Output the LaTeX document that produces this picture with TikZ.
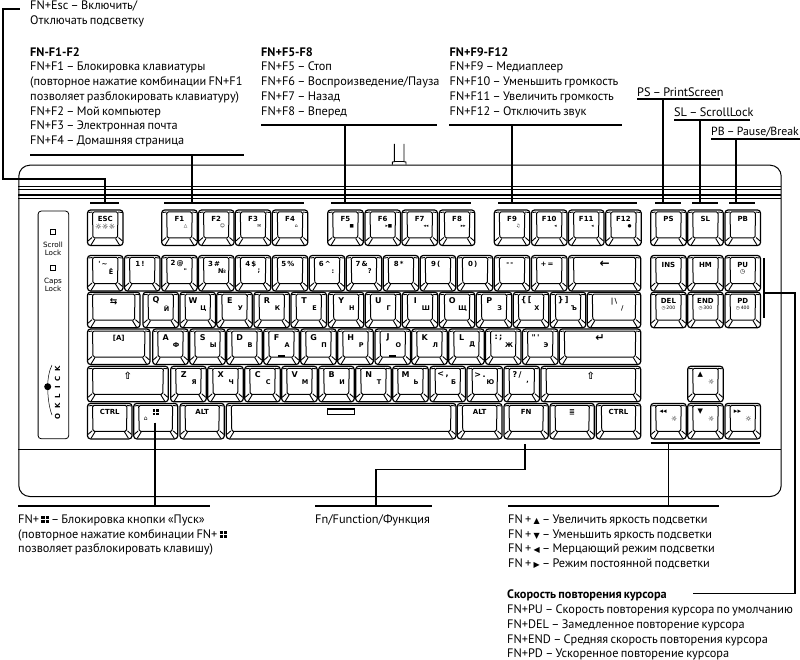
\documentclass[tikz,border=0pt]{standalone}
\usepackage{fontspec}
\setmainfont{PT Sans}[WordSpace=0.7]
\newfontfamily\keyfont{DejaVu Sans}
\usetikzlibrary{positioning}

% Key sizes and rows
\newcommand{\keyW}{35.5}
\newcommand{\keyH}{35.5}
\newcommand{\rowFn}{210}
\newcommand{\rowNum}{255.5}
\newcommand{\rowTab}{292.2}
\newcommand{\rowCaps}{329}
\newcommand{\rowShift}{366.3}
\newcommand{\rowCtrl}{403.4}
\newcommand{\winglyph}{\raisebox{.1ex}{\vbox{\offinterlineskip\hbox{\rule{.26em}{.23em}\kern.08em\rule{.26em}{.23em}}\kern.08em\hbox{\rule{.26em}{.23em}\kern.08em\rule{.26em}{.23em}}}}}
\newcommand{\symglyph}[1]{{\keyfont\fontsize{8}{8}\selectfont #1}}

\tikzset{
    keybody/.style={draw, line width=1.2pt, rounded corners=3pt, inner sep=0pt, outer sep=0pt},
    keyline/.style={line width=1pt, rounded corners=1.5pt},
    keychamfer/.style={line width=.9pt},
    keylat/.style={inner sep=0pt, font=\keyfont\bfseries\fontsize{7}{7}\selectfont},
    keybig/.style={inner sep=0pt, font=\keyfont\bfseries\fontsize{8}{8}\selectfont},
    keycyr/.style={inner sep=0pt, font=\keyfont\bfseries\fontsize{6.5}{7}\selectfont},
    keysub/.style={inner sep=0pt, font=\keyfont\fontsize{4.6}{5}\selectfont},
    lockstyle/.style={inner sep=0pt, align=center, font=\keyfont\fontsize{7.2}{7.8}\selectfont},
    notetext/.style={anchor=north west, inner sep=0pt, align=left, font=\fontsize{12.3}{14.7}\selectfont},
    leadbar/.style={line width=2pt},
    leadthin/.style={line width=1.6pt}
}

% Key outline with inner top and corner chamfers: name, x, y, width, height
\newcommand{\keycap}[5]{
    \node[keybody, minimum width=#4pt, minimum height=#5pt, anchor=north west] (#1) at (#2,#3) {};
    \draw[keyline] ([shift={(5,2)}]#1.north west) -- ([shift={(-5,2)}]#1.north east)
        -- ([shift={(-5.5,-7.5)}]#1.south east) -- ([shift={(5.5,-7.5)}]#1.south west) -- cycle;
    \draw[keychamfer] ([shift={(1,2.5)}]#1.north west) -- ([shift={(5,2)}]#1.north west);
    \draw[keychamfer] ([shift={(-1,2.5)}]#1.north east) -- ([shift={(-5,2)}]#1.north east);
    \draw[keychamfer] ([shift={(.5,-4.5)}]#1.south west) -- ([shift={(4.5,-8)}]#1.south west);
    \draw[keychamfer] ([shift={(3.5,-.5)}]#1.south west) -- ([shift={(7.5,-7)}]#1.south west);
    \draw[keychamfer] ([shift={(-.5,-4.5)}]#1.south east) -- ([shift={(-4.5,-8)}]#1.south east);
    \draw[keychamfer] ([shift={(-3.5,-.5)}]#1.south east) -- ([shift={(-7.5,-7)}]#1.south east);
}
% Standard key with two legends: name, x, y, legend x, latin, cyrillic
\newcommand{\lettercap}[6]{
    \keycap{#1}{#2}{#3}{\keyW}{\keyH}
    \node[keylat] (#1lat) at ([shift={(#4,8.4)}]#1.north west) {#5};
    \node[keycyr] (#1cyr) at ([shift={(23.5,16)}]#1.north west) {#6};
}
% Same, with the bigger latin letter
\newcommand{\alphacap}[5]{
    \keycap{#1}{#2}{#3}{\keyW}{\keyH}
    \node[keybig] (#1lat) at ([shift={(13,8.4)}]#1.north west) {#4};
    \node[keycyr] (#1cyr) at ([shift={(23.5,16)}]#1.north west) {#5};
}
% Key with one centred legend: name, x, y, width, legend
\newcommand{\widecap}[5]{
    \keycap{#1}{#2}{#3}{#4}{\keyH}
    \node[keylat] (#1lat) at ([yshift=-9pt]#1.north) {#5};
}
% Bar over a key group, stem and bar under the note: name, bar left, bar right, stem x, note left, note right, note y
\newcommand{\groupleader}[7]{
    \coordinate (#1a) at (#2,202.7);
    \coordinate (#1b) at (#3,202.7);
    \coordinate (#1c) at (#4,202.7);
    \coordinate (#1d) at (#4,#7);
    \coordinate (#1e) at (#5,#7);
    \coordinate (#1f) at (#6,#7);
    \draw[leadbar] (#1a) -- (#1b);
    \draw[leadbar] (#1c) -- (#1d);
    \draw[leadbar] (#1e) -- (#1f);
}

\begin{document}
\begin{tikzpicture}[x=1pt,y=-1pt]
    \useasboundingbox (0,0) rectangle (800,660);

    % Keyboard case
    \node[draw, line width=1pt, rounded corners=11pt, inner sep=0pt, minimum width=762.4pt, minimum height=331.3pt, anchor=north west] (case) at (18.3,164.7) {};
    \foreach \y/\w in {186/.8, 189.3/.8, 195/1.7, 198/.8, 449.3/1.3}
        \draw[line width=\w pt] (18.3,\y) -- (780.7,\y);

    % Cable stub
    \draw[line width=.9pt] (392.3,164.7) -- (392.3,162) -- (394.3,161.7) -- (394.3,144);
    \draw[line width=.9pt] (406,164.7) -- (406,162) -- (404,161.7) -- (404,144);
    \draw[line width=.9pt] (394.3,161.7) -- (404,161.7);

    % Indicator panel
    \node[draw, line width=.8pt, rounded corners=3pt, inner sep=0pt, minimum width=30.6pt, minimum height=227.6pt, anchor=north west] (panel) at (37.7,210.7) {};
    \node[draw, line width=.8pt, minimum size=5.5pt, inner sep=0pt] (scrollled) at (53,232) {};
    \node[draw, line width=.8pt, minimum size=5.5pt, inner sep=0pt] (capsled) at (53,268) {};
    \node[lockstyle] (scrolltxt) at (53,249) {Scroll\\Lock};
    \node[lockstyle] (capstxt) at (53,284.7) {Caps\\Lock};
    \node[rotate=90, inner sep=0pt, font=\keyfont\bfseries\fontsize{7}{7}\selectfont, text width=53pt, align=justify] (logo) at (57.5,392.5) {O\hfill K\hfill L\hfill I\hfill C\hfill K};
    \node[circle, fill, inner sep=0pt, minimum size=7pt] (logodot) at (47.7,386.7) {};
    \draw[line width=.5pt] (52,365) .. controls (48.5,372) and (47.7,380) .. (logodot.center) .. controls (47.7,394) and (48.5,406) .. (52,415);

    % Function row
    \widecap{esc}{87.5}{\rowFn}{\keyW}{ESC}
    \node[keysub] (escsub) at ([shift={(17.7,16.5)}]esc.north west) {\fontsize{7.5}{7.5}\selectfont ☼☼☼};
    \foreach \nm/\x/\txt/\sub in {F1/161.7/F1/△, F2/198.5/F2/☺, F3/235.3/F3/✉, F4/272.3/F4/⌂,
        F5/327.7/F5/■, F6/365/F6/▸■, F7/402/F7/◂◂, F8/439.3/F8/▸▸,
        F9/494.3/F9/♫, F10/531.5/F10/◂, F11/568.5/F11/◂, F12/605.7/F12/●}{
        \widecap{\nm}{\x}{\rowFn}{\keyW}{\txt}
        \node[keysub] (\nm sub) at ([shift={(24,16)}]\nm.north west) {\sub};
    }
    \foreach \nm/\x/\txt in {PS/650.7/PS, SL/687.7/SL, PB/725/PB}
        \widecap{\nm}{\x}{\rowFn}{\keyW}{\txt};

    % Number row
    \foreach \nm/\x/\lat/\cyr in {tilde/87.5/'\,\textasciitilde/Ё, one/124.5/1\,!/{}, two/161.7/2\,@/{"}, three/198.5/3\,\#/№,
        four/235.3/4\,\$/{;}, five/272.3/5\,\%/{}, six/309.3/6\,\^{}/{:}, seven/346.2/7\,\&/?,
        eight/383.2/8\,*/{}, nine/420.2/9\,(/{}, zero/457.3/0\,)/{}, minus/494.3/-\,-/{}, plus/531.5/+\,=/{}}
        \lettercap{\nm}{\x}{\rowNum}{15.5}{\lat}{\cyr};
    \widecap{back}{568.5}{\rowNum}{72.2}{\fontsize{12}{12}\selectfont ←}
    \widecap{INS}{650.7}{\rowNum}{\keyW}{INS}
    \widecap{HM}{687.7}{\rowNum}{\keyW}{HM}
    \widecap{PU}{725}{\rowNum}{\keyW}{PU}
    \node[keysub] (PUsub) at ([yshift=-16pt]PU.north) {\fontsize{6}{6}\selectfont ◷};

    % Upper letter row
    \widecap{tab}{87.5}{\rowTab}{52.5}{\fontsize{9}{9}\selectfont ⇆}
    \foreach \nm/\x/\lat/\cyr in {Q/143/Q/Й, W/180/W/Ц, E/216.8/E/У, R/254/R/К, T/291/T/Е, Y/328.3/Y/Н,
        U/365.3/U/Г, I/402.3/I/Ш, O/439.3/O/Щ, P/476.3/P/З, lbrack/513.3/\{\,[/Х, rbrack/550.3/\}\,]/Ъ}
        \alphacap{\nm}{\x}{\rowTab}{\lat}{\cyr};
    \widecap{bslash}{587.3}{\rowTab}{53.4}{|\,\textbackslash}
    \node[keycyr] (bslashcyr) at ([shift={(35,16)}]bslash.north west) {/};
    \widecap{DEL}{650.7}{\rowTab}{\keyW}{DEL}
    \widecap{END}{687.7}{\rowTab}{\keyW}{END}
    \widecap{PD}{725}{\rowTab}{\keyW}{PD}
    \foreach \nm/\val in {DEL/200, END/300, PD/400}
        \node[keysub] (\nm sub) at ([yshift=-16pt]\nm.north) {◷\,\val};

    % Home row
    \widecap{caps}{87.5}{\rowCaps}{62.5}{[A]}
    \foreach \nm/\x/\lat/\cyr in {A/152.7/A/Ф, S/189.7/S/Ы, D/226.7/D/В, F/263.7/F/А, G/300.7/G/П, H/337.7/H/Р,
        J/375/J/О, K/411.7/K/Л, L/448.7/L/Д, colon/485.5/:\,;/Ж, quote/522.5/"\,'/Э}
        \alphacap{\nm}{\x}{\rowCaps}{\lat}{\cyr};
    \widecap{enter}{559.3}{\rowCaps}{81.4}{\fontsize{11}{11}\selectfont ↵}
    \foreach \nm in {F, J}
        \fill ([shift={(14,26)}]\nm.north west) rectangle +(7,1.8);

    % Shift row
    \widecap{lshift}{87.5}{\rowShift}{80.8}{\fontsize{10}{10}\selectfont ⇧}
    \foreach \nm/\x/\lat/\cyr in {Z/170.7/Z/Я, X/207.7/X/Ч, C/244.7/C/С, V/281.7/V/М, B/318.7/B/И, N/355.7/N/Т,
        M/392.7/M/Ь, less/430/{<\,,}/Б, great/467/{>\,.}/Ю, quest/504/{?\,/}/{,}}
        \alphacap{\nm}{\x}{\rowShift}{\lat}{\cyr};
    \widecap{rshift}{541}{\rowShift}{99.7}{\fontsize{10}{10}\selectfont ⇧}
    \lettercap{up}{687.7}{\rowShift}{12.5}{▲}{\fontsize{7}{7}\selectfont ☼}

    % Bottom row
    \widecap{lctrl}{87.5}{\rowCtrl}{44.5}{CTRL}
    \widecap{win}{133.7}{\rowCtrl}{44}{\fontsize{10}{10}\selectfont\winglyph}
    \node[keysub] (winlock) at ([shift={(12,15)}]win.north west) {\fontsize{6}{6}\selectfont ⌂};
    \widecap{lalt}{180}{\rowCtrl}{44.3}{ALT}
    \keycap{space}{226.3}{\rowCtrl}{229.7}{\keyH}
    \node[draw, line width=1.4pt, inner sep=0pt, minimum width=27pt, minimum height=5.5pt] (spacemark) at (341,411.7) {};
    \widecap{ralt}{457.3}{\rowCtrl}{44.7}{ALT}
    \widecap{fn}{504}{\rowCtrl}{44.3}{FN}
    \widecap{menu}{550}{\rowCtrl}{44.3}{≣}
    \widecap{rctrl}{596.3}{\rowCtrl}{44.4}{CTRL}
    \lettercap{left}{650.7}{\rowCtrl}{12.5}{◂◂}{\fontsize{7}{7}\selectfont ☼}
    \lettercap{down}{687.7}{\rowCtrl}{12.5}{▼}{\fontsize{7}{7}\selectfont ☼}
    \lettercap{right}{725}{\rowCtrl}{12.5}{▸▸}{\fontsize{7}{7}\selectfont ☼}

    % Notes above the keyboard
    \node[notetext] (escnote) at (30,.5) {FN+Esc – Включить/\\Отключать подсветку};
    \node[notetext] (fonenote) at (30,47.3) {\textbf{FN-F1-F2}\\FN+F1 – Блокировка клавиатуры\\(повторное нажатие комбинации FN+F1\\позволяет разблокировать клавиатуру)\\FN+F2 – Мой компьютер\\FN+F3 – Электронная почта\\FN+F4 – Домашняя страница};
    \node[notetext] (ffivenote) at (261,47.3) {\textbf{FN+F5-F8}\\FN+F5 – Стоп\\FN+F6 – Воспроизведение/Пауза\\FN+F7 – Назад\\FN+F8 – Вперед};
    \node[notetext] (fninenote) at (449.5,47.3) {\textbf{FN+F9-F12}\\FN+F9 – Медиаплеер\\FN+F10 – Уменьшить громкость\\FN+F11 – Увеличить громкость\\FN+F12 – Отключить звук};
    \node[notetext] (psnote) at (637,87.5) {PS – PrintScreen};
    \node[notetext] (slnote) at (674,107.5) {SL – ScrollLock};
    \node[notetext, font=\fontsize{11.8}{14.7}\selectfont] (pbnote) at (711,126.5) {PB – Pause/Break};

    % Notes below the keyboard
    \node[notetext] (winnote) at (18,514.5) {FN+ \winglyph\ – Блокировка кнопки «Пуск»\\(повторное нажатие комбинации FN+ \winglyph\\позволяет разблокировать клавишу)};
    \node[notetext] (fnnote) at (315,514.5) {Fn/Function/Функция};
    \node[notetext] (lightnote) at (508,514.5) {FN + \symglyph{▲} – Увеличить яркость подсветки\\FN + \symglyph{▼} – Уменьшить яркость подсветки\\FN + \symglyph{◀} – Мерцающий режим подсветки\\FN + \symglyph{▶} – Режим постоянной подсветки};
    \node[notetext] (cursornote) at (507,590) {\textbf{Скорость повторения курсора}\\FN+PU – Скорость повторения курсора по умолчанию\\FN+DEL – Замедленное повторение курсора\\FN+END – Средняя скорость повторения курсора\\FN+PD – Ускоренное повторение курсора};

    % Leaders over the keys
    \groupleader{fone}{164.3}{304.3}{191.7}{30}{244}{155}
    \groupleader{ffive}{331}{470.7}{345}{261}{436.7}{125.2}
    \groupleader{fnine}{498.3}{636.7}{511.7}{449.3}{621.7}{125.2}
    \groupleader{ps}{655}{680.7}{662.7}{637.3}{720}{99.5}
    \groupleader{sl}{692.3}{717.7}{700}{674}{750}{120}
    \groupleader{pb}{729}{755}{735.7}{711}{800}{139.5}

    % Leader from the escape key
    \coordinate (esca) at (90,202.7);
    \coordinate (escb) at (119.3,202.7);
    \coordinate (escc) at (105,202.7);
    \coordinate (escd) at (105,179);
    \coordinate (esce) at (2.7,179);
    \coordinate (escf) at (2.7,9.3);
    \coordinate (escg) at (20,9.3);
    \draw[leadbar] (esca) -- (escb);
    \draw[leadbar] (escc) -- (escd) -- (esce) -- (escf) -- (escg);

    % Leaders under the keys
    \coordinate (wina) at (18,506);
    \coordinate (winb) at (210,506);
    \coordinate (winc) at (155,506);
    \coordinate (wind) at (155,422.7);
    \draw[leadbar] (wina) -- (winb);
    \draw[leadthin] (wind) -- (winc);
    \coordinate (fna) at (315,506);
    \coordinate (fnb) at (431.7,506);
    \coordinate (fnc) at (376,506);
    \coordinate (fnd) at (376,469.3);
    \coordinate (fne) at (525,469.3);
    \coordinate (fnf) at (525,443.5);
    \draw[leadbar] (fna) -- (fnb);
    \draw[leadthin] (fnc) -- (fnd) -- (fne) -- (fnf);
    \coordinate (arra) at (650.7,443.3);
    \coordinate (arrb) at (760,443.3);
    \coordinate (arrc) at (668.3,443.3);
    \coordinate (arrd) at (668.3,506);
    \coordinate (arre) at (508.3,506);
    \coordinate (arrf) at (719.3,506);
    \draw[leadbar] (arra) -- (arrb);
    \draw[leadthin] (arrc) -- (arrd);
    \draw[leadbar] (arre) -- (arrf);

    % Bracket for the cursor keys
    \coordinate (cura) at (764,258);
    \coordinate (curb) at (764,318);
    \coordinate (curc) at (764,292.7);
    \coordinate (curd) at (795,292.7);
    \coordinate (cure) at (795,593.3);
    \coordinate (curf) at (693.3,593.3);
    \draw[leadthin] (cura) -- (curb);
    \draw[leadthin] (curc) -- (curd) -- (cure) -- (curf);
\end{tikzpicture}
\end{document}
